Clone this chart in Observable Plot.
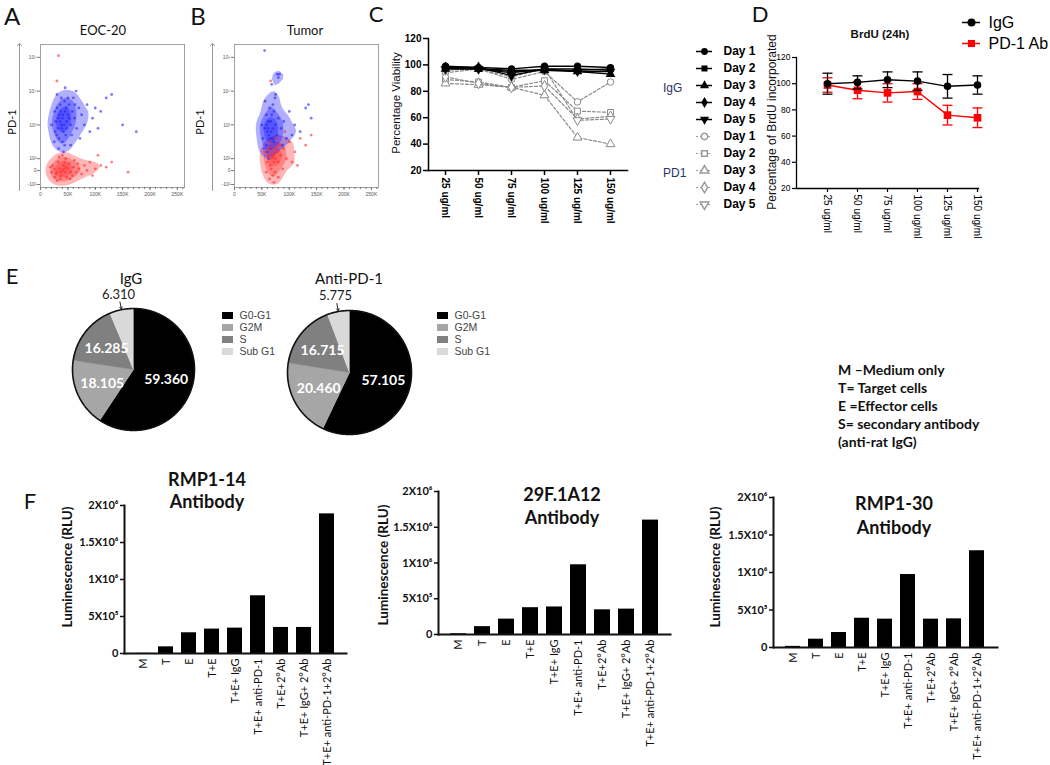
<!DOCTYPE html>
<html><head><meta charset="utf-8">
<script src="https://cdn.jsdelivr.net/npm/d3@7"></script>
<script src="https://cdn.jsdelivr.net/npm/@observablehq/plot@0.6"></script>
<style>
body{margin:0;background:#fff;}
#fig{position:relative;width:1050px;height:765px;overflow:hidden;background:#fff;}
</style></head><body><div id="fig"></div><script>
// ---------------- DATA ----------------
// Panel A/B: flow cytometry events  [FSC (K), PD-1 (display decades)]
const eocBlue = [[30,3.5],[35,3.3],[40,3.2],[45,3.4],[38,3.0],[32,2.9],[42,2.8],[48,3.1],[36,3.6],[44,3.7],[28,3.1],[50,3.3],[55,3.0],[34,2.6],[40,2.5],[46,2.7],[52,3.6],[58,3.4],[26,3.4],[38,3.8],[30,2.7],[62,3.2],[66,2.9],[70,3.5],[60,3.8],[75,3.3],[80,3.0],[85,3.6],[95,3.2],[100,3.5],[110,3.4],[120,3.8],[90,2.8],[72,2.6],[105,2.9],[130,3.9],[65,4.0],[45,4.1],[55,2.4],[25,2.5],[33,2.3],[42,2.2],[20,3.0],[48,2.9],[36,3.1],[41,3.3],[43,3.0],[37,3.4],[150,3.0],[175,2.8],[52,3.2],[47,3.5],[39,2.9],[33,3.2],[27,2.8],[57,2.7],[63,3.6],[50,3.8],[30,3.9],[44,2.4]];
const eocRed = [[30,1.6],[35,1.7],[40,1.65],[45,1.6],[50,1.7],[38,1.5],[42,1.8],[32,1.9],[28,1.55],[25,1.7],[55,1.6],[60,1.75],[48,1.45],[36,1.4],[44,1.9],[52,1.85],[65,1.6],[70,1.7],[75,1.55],[80,1.8],[85,1.65],[90,1.9],[100,1.7],[110,1.8],[20,1.6],[22,1.8],[58,1.5],[62,1.95],[46,2.0],[34,2.05],[40,2.1],[30,1.35],[95,1.5],[120,1.75],[130,1.9],[105,2.1],[160,1.6],[33,5.05],[30,4.3],[43,1.7],[37,1.6],[47,1.75],[26,1.45],[54,1.4],[68,1.85],[18,1.75]];
const tumorBlue = [[60,2.8],[65,2.6],[70,2.9],[62,3.1],[68,3.3],[58,2.4],[55,2.9],[72,2.5],[75,3.0],[64,3.5],[60,2.2],[52,2.6],[66,2.3],[78,2.7],[80,3.2],[85,2.9],[70,3.6],[58,3.3],[56,3.7],[74,3.8],[90,3.1],[95,2.6],[100,3.4],[110,3.0],[120,2.8],[130,3.5],[88,2.4],[50,3.0],[62,2.0],[75,3.9],[68,4.2],[80,4.4],[55,5.2],[78,4.5],[82,4.5],[140,3.2],[135,3.6],[105,2.7],[63,2.7],[67,2.8],[61,2.9],[69,2.6],[54,2.3],[72,3.4],[59,3.0],[66,3.1]];
const tumorRed = [[70,2.1],[72,1.9],[68,2.3],[75,2.0],[65,1.8],[78,2.2],[80,1.9],[66,2.5],[62,2.1],[74,1.6],[70,1.5],[85,2.1],[90,2.3],[60,1.9],[76,2.6],[82,2.4],[95,2.0],[100,2.5],[110,2.2],[120,2.6],[58,1.6],[64,1.4],[72,1.3],[88,1.7],[92,2.8],[105,1.9],[55,2.2],[68,2.0],[73,2.15],[66,4.3],[130,2.4],[140,2.7],[115,1.8],[80,1.45],[71,2.05],[67,1.7],[77,2.35],[63,2.3]];
const flowXTicks = [0,50,100,150,200,250];
const flowXLabels = ["0","50K","100K","150K","200K","250K"];
const flowYTicks = [5,4,3,2,1.647,1.235];
const flowYLabels = ["10⁵","10⁴","10³","10²","0","-10²"];

// Panel C: viability
const doses = ["25 ug/ml","50 ug/ml","75 ug/ml","100 ug/ml","125 ug/ml","150 ug/ml"];
const days = ["Day 1","Day 2","Day 3","Day 4","Day 5"];
const viabilityIgG = [
  [99,98,97,99,99,98],
  [98,97,96,96,96,97],
  [97,97,95,96,95,93],
  [98,98,92,97,97,96],
  [97,97,94,97,95,95]];
const viabilityPD1 = [
  [94,97,89,95,72,87],
  [89,87,83,88,65,64],
  [86,85,83,77,45,40],
  [91,86,83,84,59,61],
  [96,97,91,97,58,59]];

// Panel D: BrdU
const brduIgG = [100,101,103,102,98,99];
const brduIgGErr = [8,5,6,7,9,7];
const brduPD1 = [99,95,93,94,76,74];
const brduPD1Err = [5.5,6.5,7,6,7.5,7.5];

// Panel E: cell cycle
const phases = ["G0-G1","G2M","S","Sub G1"];
const cycleIgG = [59.360,18.105,16.285,6.310];
const cycleAnti = [57.105,20.460,16.715,5.775];

// Panel F: luminescence
const conditions = ["M","T","E","T+E","T+E+ IgG","T+E+ anti-PD-1","T+E+2°Ab","T+E+ IgG+ 2°Ab","T+E+ anti-PD-1+2°Ab"];
const rmp114 = [2000,90000,280000,330000,343000,780000,352000,352000,1887000];
const f29a12 = [10000,110000,215000,375000,385000,975000,345000,355000,1600000];
const rmp130 = [15000,111000,200000,390000,378000,973000,378000,382000,1290000];
const lumTicks = [0,500000,1000000,1500000,2000000];
const lumLabels = ["0","5X10⁵","1X10⁶","1.5X10⁶","2X10⁶"];

// ---------------- STYLE ----------------
const phaseColors = ["#000000","#a6a6a6","#808080","#d9d9d9"];
const ARIAL = "'Liberation Sans', Arial, sans-serif";
const CAL = "Lato, 'Open Sans', sans-serif";

const fig = document.getElementById("fig");
function place(node, left, top) {
  node.style.position = "absolute"; node.style.left = left + "px"; node.style.top = top + "px";
  fig.appendChild(node); return node;
}
function label(str, x, y, css = {}, mode = "center") {
  const d = document.createElement("div");
  d.textContent = str;
  Object.assign(d.style, {position:"absolute", whiteSpace:"nowrap", left:x+"px", top:y+"px", lineHeight:"1"});
  d.style.transform = mode === "rot" ? "translate(-50%,-50%) rotate(-90deg)" : mode === "left" ? "translate(0,-50%)" : "translate(-50%,-50%)";
  Object.assign(d.style, css);
  fig.appendChild(d);
}
const triangleDown = {draw(ctx, size) { const y = -Math.sqrt(size / (Math.sqrt(3) * 3)); ctx.moveTo(0, -y * 2); ctx.lineTo(-Math.sqrt(3) * y, y); ctx.lineTo(Math.sqrt(3) * y, y); ctx.closePath(); }};
const hline = {draw(ctx, size) { const w = Math.sqrt(size / Math.PI); ctx.moveTo(-w, 0); ctx.lineTo(w, 0); }};
const daySymbols = [d3.symbolCircle, d3.symbolSquare, d3.symbolTriangle, d3.symbolDiamond, triangleDown];

// ---------------- A / B ----------------
function flowPlot(blue, red, marginLeft, marginRight, arrowDx) {
  const b = blue.map(([x, y]) => ({x, y})), r = red.map(([x, y]) => ({x, y}));
  const yDom = [1.147, 5.38];
  return Plot.plot({
    width: 200, height: 175, marginLeft, marginRight, marginTop: 14, marginBottom: 18,
    style: {fontFamily: ARIAL, background: "transparent", color: "#555", overflow: "visible"},
    x: {domain: [0, 263], label: null},
    y: {domain: yDom, label: null},
    marks: [
      Plot.density(r, {x: "x", y: "y", fill: "#ff2020", fillOpacity: 0.33, stroke: "none", bandwidth: 5, thresholds: 4, clip: true}),
      Plot.density(b, {x: "x", y: "y", fill: "#1010ff", fillOpacity: 0.33, stroke: "none", bandwidth: 5, thresholds: 4, clip: true}),
      Plot.dot(b, {x: "x", y: "y", r: 1.4, fill: "#2222ff", fillOpacity: 0.6}),
      Plot.dot(r, {x: "x", y: "y", r: 1.4, fill: "#ff2a2a", fillOpacity: 0.6}),
      Plot.frame({stroke: "#a0a0a0"}),
      Plot.axisX({ticks: d3.range(0, 261, 10), tickFormat: () => "", tickSize: 2, stroke: "#777"}),
      Plot.axisX({ticks: flowXTicks, tickFormat: d => flowXLabels[flowXTicks.indexOf(d)], tickSize: 3, tickPadding: 2, fontSize: 5, stroke: "#777", label: null}),
      Plot.axisY({ticks: flowYTicks, tickFormat: d => flowYLabels[flowYTicks.indexOf(d)], tickSize: 3, tickPadding: 1, fontSize: 5, stroke: "#777", label: null}),
      Plot.link([0], {x1: 0, x2: 0, y1: yDom[0] - 0.1, y2: yDom[1], dx: arrowDx, stroke: "#999", strokeWidth: 1, markerEnd: "arrow"})
    ]
  });
}
place(flowPlot(eocBlue, eocRed, 40, 16, -21), 0, 30);
place(flowPlot(tumorBlue, tumorRed, 44, 12, -22), 190, 30);
label("A", 12, 16, {fontFamily: CAL, fontSize: "24px", color: "#111"});
label("B", 198, 16, {fontFamily: CAL, fontSize: "24px", color: "#111"});
label("EOC-20", 103, 30, {fontFamily: CAL, fontSize: "13px", color: "#111"});
label("Tumor", 305, 30, {fontFamily: CAL, fontSize: "13px", color: "#111"});
label("PD-1", 11, 122, {fontFamily: CAL, fontSize: "11px", color: "#111"}, "rot");
label("PD-1", 199, 122, {fontFamily: CAL, fontSize: "11px", color: "#111"}, "rot");

// ---------------- C ----------------
const cIgG = days.flatMap((day, i) => doses.map((dose, j) => ({day, dose, v: viabilityIgG[i][j]})));
const cPD1 = days.flatMap((day, i) => doses.map((dose, j) => ({day, dose, v: viabilityPD1[i][j]})));
const symbolScale = {domain: days, range: daySymbols};
place(Plot.plot({
  width: 277, height: 230, marginLeft: 68, marginRight: 10, marginTop: 38, marginBottom: 60,
  style: {fontFamily: ARIAL, background: "transparent", color: "#000", overflow: "visible"},
  x: {type: "point", domain: doses, padding: 0.5, label: null},
  y: {domain: [20, 120], label: null},
  symbol: symbolScale,
  marks: [
    Plot.frame({anchor: "left", strokeWidth: 1.5}),
    Plot.frame({anchor: "bottom", strokeWidth: 1.5}),
    Plot.axisY({ticks: [20, 40, 60, 80, 100, 120], tickSize: 5, tickPadding: 2, fontSize: 10, fontWeight: "bold", strokeWidth: 1.5, label: null}),
    Plot.axisX({tickRotate: 90, tickSize: 5, tickPadding: 2, fontSize: 10, fontWeight: "bold", strokeWidth: 1.5, label: null}),
    Plot.line(cPD1, {x: "dose", y: "v", z: "day", stroke: "#8a8a8a", strokeWidth: 1.2, strokeDasharray: "3,2"}),
    Plot.dot(cPD1, {x: "dose", y: "v", symbol: "day", stroke: "#8a8a8a", fill: "white", strokeWidth: 1, r: 3.3}),
    Plot.line(cIgG, {x: "dose", y: "v", z: "day", stroke: "#000", strokeWidth: 1.4}),
    Plot.dot(cIgG, {x: "dose", y: "v", symbol: "day", fill: "#000", r: 3.6})
  ]
}), 360, 0);
label("C", 376, 14, {fontFamily: CAL, fontSize: "22px", color: "#111"});
label("Percentage Viability", 397, 103, {fontFamily: ARIAL, fontSize: "11.5px", color: "#111"}, "rot");

// C legend
const legC = [...days.map((day, i) => ({group: "IgG", day, i})), ...days.map((day, i) => ({group: "PD1", day, i: i + 5}))];
place(Plot.plot({
  width: 90, height: 180, marginLeft: 6, marginRight: 68, marginTop: 10, marginBottom: 10,
  style: {fontFamily: ARIAL, background: "transparent", color: "#000", overflow: "visible"},
  x: {axis: null}, y: {type: "point", domain: d3.range(10), padding: 0, axis: null},
  symbol: symbolScale,
  marks: [
    Plot.tickY(legC.filter(d => d.group === "IgG"), {y: "i", stroke: "#000", strokeWidth: 1.5}),
    Plot.tickY(legC.filter(d => d.group === "PD1"), {y: "i", stroke: "#9a9a9a", strokeWidth: 1.2, strokeDasharray: "2,2"}),
    Plot.dot(legC.filter(d => d.group === "IgG"), {y: "i", symbol: "day", fill: "#000", r: 3.4}),
    Plot.dot(legC.filter(d => d.group === "PD1"), {y: "i", symbol: "day", fill: "white", stroke: "#9a9a9a", r: 3.2}),
    Plot.text(legC, {y: "i", text: "day", frameAnchor: "right", textAnchor: "start", dx: 11, fontSize: 12, fontWeight: "bold"})
  ]
}), 690, 37);
label("IgG", 663, 88, {fontFamily: ARIAL, fontSize: "12px", color: "#2a3466"}, "left");
label("PD1", 663, 173, {fontFamily: ARIAL, fontSize: "12px", color: "#2a3466"}, "left");

// ---------------- D ----------------
const dIgG = doses.map((dose, j) => ({dose, v: brduIgG[j], e: brduIgGErr[j]}));
const dPD1 = doses.map((dose, j) => ({dose, v: brduPD1[j], e: brduPD1Err[j]}));
function brduMarks(rows, color, symbol, r) {
  return [
    Plot.ruleX(rows, {x: "dose", y1: d => d.v - d.e, y2: d => d.v + d.e, stroke: color, strokeWidth: 1.3}),
    Plot.dot(rows, {x: "dose", y: d => d.v - d.e, symbol: hline, stroke: color, strokeWidth: 1.3, r: 5}),
    Plot.dot(rows, {x: "dose", y: d => d.v + d.e, symbol: hline, stroke: color, strokeWidth: 1.3, r: 5}),
    Plot.line(rows, {x: "dose", y: "v", stroke: color, strokeWidth: 1.4}),
    Plot.dot(rows, {x: "dose", y: "v", symbol, fill: color, r})
  ];
}
place(Plot.plot({
  width: 290, height: 253, marginLeft: 96, marginRight: 12, marginTop: 57, marginBottom: 65,
  style: {fontFamily: ARIAL, background: "transparent", color: "#000", overflow: "visible"},
  x: {type: "point", domain: doses, padding: 0, insetLeft: 31, insetRight: 1, label: null},
  y: {domain: [20, 120], label: null},
  marks: [
    Plot.frame({anchor: "left", strokeWidth: 1.3}),
    Plot.frame({anchor: "bottom", strokeWidth: 1.3}),
    Plot.axisY({ticks: [20, 40, 60, 80, 100, 120], tickSize: 4, tickPadding: 2, fontSize: 8.5, strokeWidth: 1.2, label: null}),
    Plot.axisX({tickRotate: 90, tickSize: 4, tickPadding: 2, fontSize: 10, strokeWidth: 1.2, label: null}),
    ...brduMarks(dPD1, "#ff0000", "square", 4.3),
    ...brduMarks(dIgG, "#000000", "circle", 3.8)
  ]
}), 700, 0);
label("D", 760, 14, {fontFamily: CAL, fontSize: "22px", color: "#111"});
label("BrdU (24h)", 880, 35, {fontFamily: ARIAL, fontSize: "11.5px", fontWeight: "bold", color: "#111"});
label("Percentage of BrdU incorporated", 772, 122, {fontFamily: ARIAL, fontSize: "12px", color: "#111"}, "rot");
const legD = [{name: "IgG", color: "#000", sym: "circle"}, {name: "PD-1 Ab", color: "#ff0000", sym: "square"}];
place(Plot.plot({
  width: 95, height: 42, marginLeft: 7, marginRight: 70, marginTop: 10, marginBottom: 11,
  style: {fontFamily: ARIAL, background: "transparent", color: "#000", overflow: "visible"},
  x: {axis: null}, y: {type: "point", domain: legD.map(d => d.name), padding: 0, axis: null},
  marks: [
    Plot.tickY(legD, {y: "name", stroke: d => d.color, strokeWidth: 1.5}),
    Plot.dot(legD, {y: "name", symbol: "sym", fill: d => d.color, r: 4}),
    Plot.text(legD, {y: "name", text: "name", frameAnchor: "right", textAnchor: "start", dx: 8, fontSize: 16})
  ]
}), 955, 12);

// ---------------- E ----------------
function piePlot(values, r) {
  const total = d3.sum(values);
  let acc = 0;
  const slices = phases.map((phase, i) => {
    const a0 = acc / total * 2 * Math.PI; acc += values[i];
    const a1 = acc / total * 2 * Math.PI;
    return {phase, value: values[i], a0, a1, mid: (a0 + a1) / 2};
  });
  const poly = slices.flatMap(s => {
    const n = Math.max(2, Math.ceil((s.a1 - s.a0) / 0.02));
    return [{phase: s.phase, x: 0, y: 0}, ...d3.range(n + 1).map(k => {
      const t = s.a0 + (s.a1 - s.a0) * k / n; return {phase: s.phase, x: Math.sin(t), y: Math.cos(t)};
    })];
  });
  const ring = d3.range(241).map(k => { const t = k / 240 * 2 * Math.PI; return {x: Math.sin(t), y: Math.cos(t)}; });
  const big = slices.filter(s => s.value >= 10), small = slices.filter(s => s.value < 10);
  const fmt = d3.format(".3f");
  const m = 30;
  return Plot.plot({
    width: 2 * r + 2 * m, height: 2 * r + 2 * m, margin: m,
    style: {fontFamily: CAL, background: "transparent", color: "#000", overflow: "visible"},
    x: {domain: [-1, 1], axis: null}, y: {domain: [-1, 1], axis: null},
    color: {type: "ordinal", domain: phases, range: phaseColors},
    marks: [
      Plot.line(poly, {x: "x", y: "y", z: "phase", fill: "phase", stroke: "phase", strokeWidth: 0.6}),
      Plot.line(ring, {x: "x", y: "y", stroke: "#111", strokeWidth: 1.6, fill: "none"}),
      Plot.text(big, {x: d => 0.56 * Math.sin(d.mid), y: d => 0.56 * Math.cos(d.mid), text: d => fmt(d.value), fill: "white", fontWeight: "bold", fontSize: 14}),
      Plot.text(small, {x: d => 1.25 * Math.sin(d.mid), y: d => 1.25 * Math.cos(d.mid), text: d => fmt(d.value), fill: "#222", fontSize: 13}),
      Plot.arrow(small, {x1: d => 1.13 * Math.sin(d.mid), y1: d => 1.13 * Math.cos(d.mid), x2: d => 1.01 * Math.sin(d.mid), y2: d => 1.01 * Math.cos(d.mid), stroke: "#222", strokeWidth: 1, headLength: 4})
    ]
  });
}
function pieLegend() {
  return Plot.plot({
    width: 80, height: 52, marginLeft: 0, marginRight: 69, marginTop: 8, marginBottom: 8,
    style: {fontFamily: ARIAL, background: "transparent", color: "#444", overflow: "visible"},
    x: {axis: null}, y: {type: "point", domain: phases, padding: 0, axis: null},
    color: {type: "ordinal", domain: phases, range: phaseColors},
    marks: [
      Plot.tickY(phases, {y: d => d, stroke: d => d, strokeWidth: 7}),
      Plot.text(phases, {y: d => d, text: d => d, frameAnchor: "right", textAnchor: "start", dx: 6, fontSize: 10.5, fill: "#444"})
    ]
  });
}
place(piePlot(cycleIgG, 61), 133 - 91, 369 - 91);
place(piePlot(cycleAnti, 62), 349 - 92, 372 - 92);
place(pieLegend(), 222, 307);
place(pieLegend(), 437, 307);
label("E", 12, 276, {fontFamily: CAL, fontSize: "22px", color: "#111"});
label("IgG", 131, 278, {fontFamily: CAL, fontSize: "15px", color: "#111"});
label("Anti-PD-1", 349, 278, {fontFamily: CAL, fontSize: "15px", color: "#111"});

// definitions
const defs = ["M –Medium only", "T= Target cells", "E =Effector cells", "S= secondary antibody", "(anti-rat IgG)"];
defs.forEach((t, i) => label(t, 838, 370 + i * 18, {fontFamily: CAL, fontSize: "14px", fontWeight: "bold", color: "#111"}, "left"));

// ---------------- F ----------------
function barPlot(values, width, height, marginLeft) {
  const rows = conditions.map((c, i) => ({c, v: values[i]}));
  return Plot.plot({
    width, height, marginLeft, marginRight: 4, marginTop: 15, marginBottom: 112,
    style: {fontFamily: CAL, background: "transparent", color: "#111", overflow: "visible"},
    x: {type: "band", domain: conditions, paddingInner: 0.33, paddingOuter: 0.35, label: null},
    y: {domain: [0, 2000000], label: null},
    marks: [
      Plot.barY(rows, {x: "c", y: "v", fill: "#000"}),
      Plot.frame({anchor: "left", strokeWidth: 2}),
      Plot.frame({anchor: "bottom", strokeWidth: 2}),
      Plot.axisY({ticks: lumTicks, tickFormat: d => lumLabels[lumTicks.indexOf(d)], tickSize: 4, tickPadding: 2, fontSize: 11, fontWeight: "bold", strokeWidth: 1.5, label: null}),
      Plot.axisX({tickRotate: -90, tickSize: 0, tickPadding: 5, fontSize: 11, label: null})
    ]
  });
}
place(barPlot(rmp114, 280, 275, 54), 70, 490);
place(barPlot(f29a12, 294, 270, 58), 380, 476);
place(barPlot(rmp130, 273, 277, 45), 728, 482);
label("F", 30, 501, {fontFamily: CAL, fontSize: "22px", color: "#111"});
const titleCss = {fontFamily: CAL, fontSize: "18px", fontWeight: "bold", color: "#111"};
label("RMP1-14", 207, 479, titleCss); label("Antibody", 207, 501, titleCss);
label("29F.1A12", 562, 494, titleCss); label("Antibody", 562, 517, titleCss);
label("RMP1-30", 894, 503, titleCss); label("Antibody", 894, 527, titleCss);
const ylabCss = {fontFamily: CAL, fontSize: "13.5px", fontWeight: "bold", color: "#111"};
label("Luminescence (RLU)", 68, 567, ylabCss, "rot");
label("Luminescence (RLU)", 384, 565, ylabCss, "rot");
label("Luminescence (RLU)", 716, 567, ylabCss, "rot");
</script></body></html>
